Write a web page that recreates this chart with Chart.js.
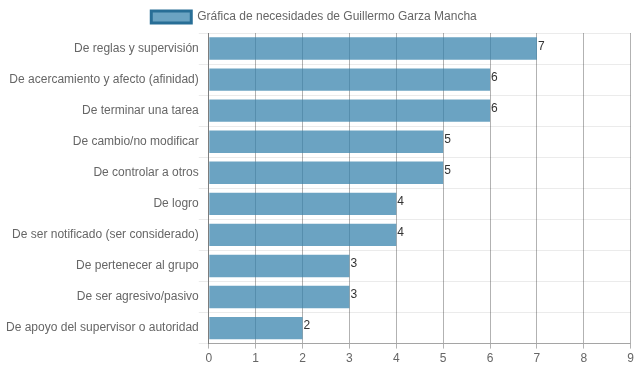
<!DOCTYPE html>
<html>
<head>
<meta charset="utf-8">
<script src="https://cdn.jsdelivr.net/npm/chart.js@4/dist/chart.umd.min.js"></script>
<style>
html,body{margin:0;padding:0;background:#fff;}
#wrap{width:637px;height:371px;}
</style>
</head>
<body>
<div id="wrap"><canvas id="c" width="637" height="371"></canvas></div>
<script>
const categories = [
  "De reglas y supervisión",
  "De acercamiento y afecto (afinidad)",
  "De terminar una tarea",
  "De cambio/no modificar",
  "De controlar a otros",
  "De logro",
  "De ser notificado (ser considerado)",
  "De pertenecer al grupo",
  "De ser agresivo/pasivo",
  "De apoyo del supervisor o autoridad"
];
const values = [7, 6, 6, 5, 5, 4, 4, 3, 3, 2];
const seriesLabel = "Gráfica de necesidades de Guillermo Garza Mancha";
const xTicks = [0, 1, 2, 3, 4, 5, 6, 7, 8, 9];

const FONT = "'Liberation Sans', Arial, sans-serif";
const barFill = "rgba(50,128,170,0.72)";
const barBorder = "rgba(40,110,150,1)";

const valueLabels = {
  id: "valueLabels",
  afterLayout(chart) {
    if (chart.legend) {
      chart.legend.left -= 6;
      chart.legend.right -= 6;
    }
  },
  afterDatasetsDraw(chart) {
    const ctx = chart.ctx;
    const meta = chart.getDatasetMeta(0);
    ctx.save();
    ctx.font = "12px " + FONT;
    ctx.fillStyle = "#333";
    ctx.textAlign = "left";
    ctx.textBaseline = "middle";
    meta.data.forEach((bar, i) => {
      ctx.fillText(String(chart.data.datasets[0].data[i]), bar.x + 1, bar.y - 2);
    });
    ctx.restore();
  }
};

new Chart(document.getElementById("c"), {
  type: "bar",
  data: {
    labels: categories,
    datasets: [{
      label: seriesLabel,
      data: values,
      backgroundColor: barFill,
      borderColor: barBorder,
      borderWidth: 0
    }]
  },
  options: {
    indexAxis: "y",
    responsive: false,
    animation: false,
    devicePixelRatio: 1,
    layout: { padding: { right: 3, left: 6, top: 1, bottom: 2 } },
    plugins: {
      tooltip: { enabled: false },
      legend: {
        display: true,
        position: "top",
        labels: {
          boxWidth: 40,
          boxHeight: 12,
          color: "#666",
          font: { family: FONT, size: 12 },
          generateLabels(chart) {
            return [{
              text: seriesLabel,
              fillStyle: barFill,
              strokeStyle: barBorder,
              lineWidth: 3,
              hidden: false,
              datasetIndex: 0,
              fontColor: "#666"
            }];
          }
        }
      }
    },
    scales: {
      x: {
        min: 0,
        max: 9,
        afterBuildTicks(scale) { scale.ticks = xTicks.map(v => ({ value: v })); },
        ticks: { stepSize: 1, color: "#666", font: { family: FONT, size: 12 }, padding: 3 },
        grid: { color: "rgba(0,0,0,0.3)", tickLength: 5 },
        border: { color: "rgba(0,0,0,0.3)" }
      },
      y: {
        ticks: { color: "#666", font: { family: FONT, size: 12 }, padding: 0 },
        grid: { color: "rgba(0,0,0,0.08)", tickLength: 10, offset: true },
        border: { color: "rgba(0,0,0,0.3)" }
      }
    }
  },
  plugins: [valueLabels]
});
</script>
</body>
</html>
